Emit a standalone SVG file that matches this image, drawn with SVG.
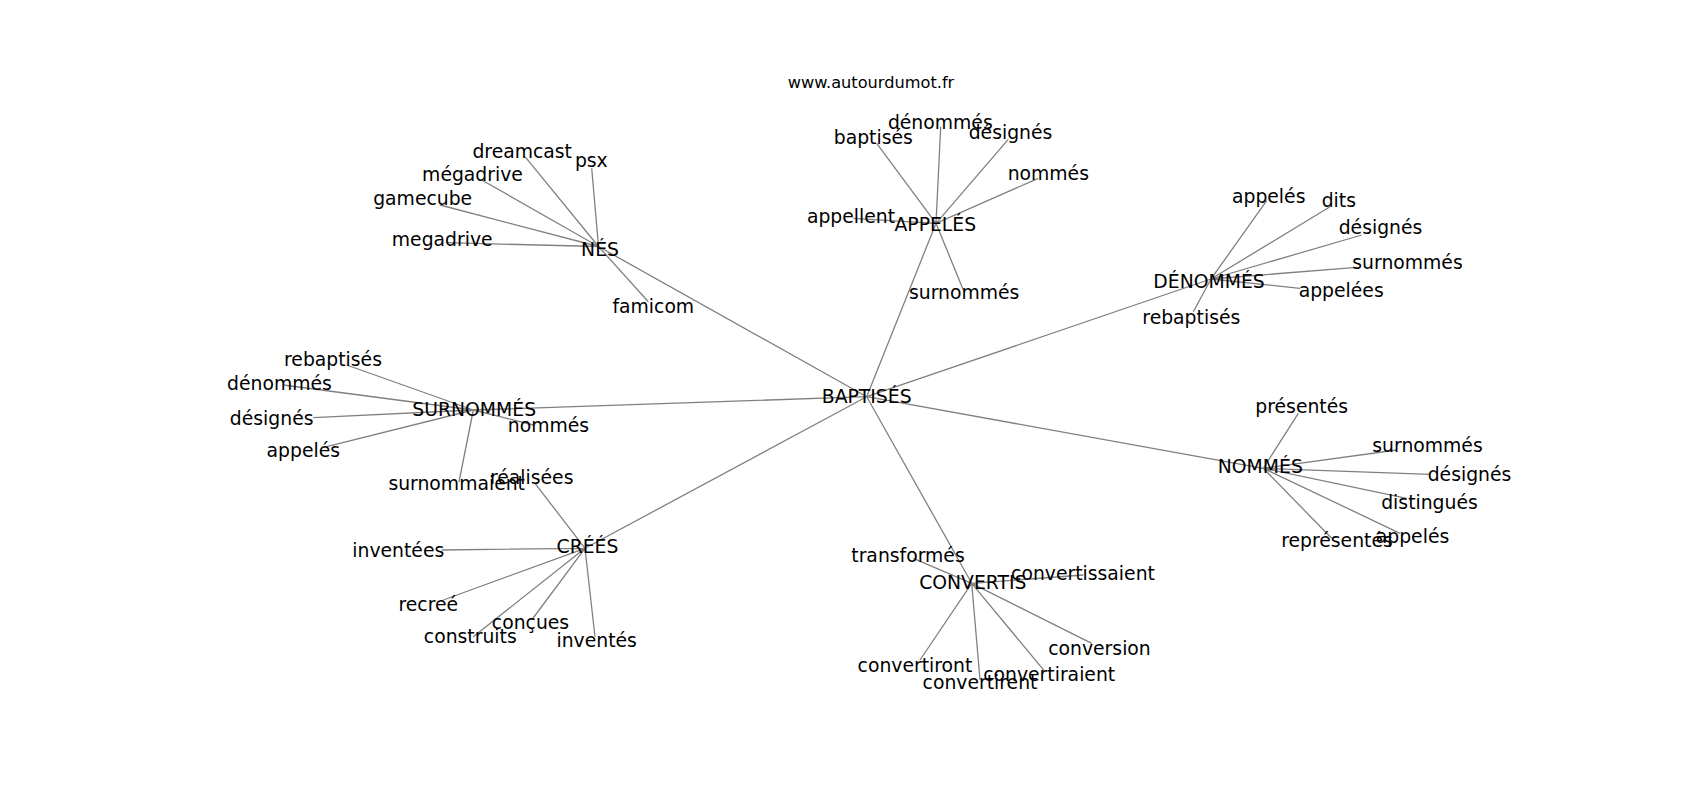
<svg xmlns="http://www.w3.org/2000/svg" width="1700" height="800" viewBox="0 0 1700 800">
<style>
.e{stroke:#808080;stroke-width:1.3;fill:none}
text{font-family:"DejaVu Sans","Liberation Sans",sans-serif;font-size:18.8px;fill:#000;text-anchor:middle}
.t{font-size:16.2px}
</style>
<rect width="1700" height="800" fill="#fff"/>
<g id="edges">
<path class="e" d="M866.7,396.7L598.5,246.5M866.7,396.7L936,223.3M866.7,396.7L1211,279M866.7,396.7L1263.3,468.3M866.7,396.7L971.7,583.3M866.7,396.7L585,548.3M866.7,396.7L473.3,410"/>
<path class="e" d="M598.5,246.5L591.7,168.3M598.5,246.5L525,156.7M598.5,246.5L481.7,180M598.5,246.5L440,205M598.5,246.5L446.7,242.7M598.5,246.5L648.3,301.7"/>
<path class="e" d="M936,223.3L876.7,143.3M936,223.3L940.7,126.7M936,223.3L1008.3,139.3M936,223.3L1038.3,178.3M936,223.3L853.3,218.3M936,223.3L963.3,290"/>
<path class="e" d="M1211,279L1266.7,200.7M1211,279L1330,206.7M1211,279L1361.7,235M1211,279L1356.7,267.3M1211,279L1300,288.3M1211,279L1193.3,311.7"/>
<path class="e" d="M473.3,410L346.7,365M473.3,410L283.3,385M473.3,410L313.3,417.7M473.3,410L326.7,446.7M473.3,410L533.3,425M473.3,410L459,482"/>
<path class="e" d="M585,548.3L535,483.3M585,548.3L441.7,550M585,548.3L443.3,600M585,548.3L531.7,620M585,548.3L473.3,636.7M585,548.3L595,636.7"/>
<path class="e" d="M971.7,583.3L913.3,558.3M971.7,583.3L1083.3,575M971.7,583.3L1091.7,643.3M971.7,583.3L920,660M971.7,583.3L980,680M971.7,583.3L1045,671.7"/>
<path class="e" d="M1263.3,468.3L1298.3,413.3M1263.3,468.3L1396.7,450M1263.3,468.3L1430,474.3M1263.3,468.3L1406.7,498.3M1263.3,468.3L1400,533.3M1263.3,468.3L1331.7,538.3"/>
</g>
<text class="t" x="871" y="87.7">www.autourdumot.fr</text>
<g id="n-baptises"><text x="866.7" y="403.3">BAPTISÉS</text></g>
<g id="n-nes"><text x="600" y="255.7">NÉS</text>
<text x="522.2" y="158.3">dreamcast</text>
<text x="591.3" y="166.7">psx</text>
<text x="472.5" y="181">mégadrive</text>
<text x="422.7" y="205">gamecube</text>
<text x="442.2" y="246">megadrive</text>
<text x="653.3" y="312.7">famicom</text></g>
<g id="n-appeles"><text x="935.3" y="230.7">APPELÉS</text>
<text x="873.3" y="144">baptisés</text>
<text x="940.3" y="129.3">dénommés</text>
<text x="1010.5" y="139.3">désignés</text>
<text x="1048.3" y="180">nommés</text>
<text x="851" y="222.7">appellent</text>
<text x="964.2" y="299.3">surnommés</text></g>
<g id="n-denommes"><text x="1209" y="287.5">DÉNOMMÉS</text>
<text x="1268.7" y="202.7">appelés</text>
<text x="1338.8" y="206.7">dits</text>
<text x="1380.5" y="234">désignés</text>
<text x="1407.5" y="269.3">surnommés</text>
<text x="1341.2" y="296.7">appelées</text>
<text x="1191.3" y="324">rebaptisés</text></g>
<g id="n-surnommes"><text x="474.2" y="416">SURNOMMÉS</text>
<text x="333" y="366">rebaptisés</text>
<text x="279.5" y="390">dénommés</text>
<text x="271.7" y="425">désignés</text>
<text x="303.3" y="456.7">appelés</text>
<text x="548.5" y="432.3">nommés</text>
<text x="456.7" y="490">surnommaient</text></g>
<g id="n-crees"><text x="587.5" y="553.3">CRÉÉS</text>
<text x="531.7" y="484.3">réalisées</text>
<text x="398.3" y="556.7">inventées</text>
<text x="428.3" y="610.7">recreé</text>
<text x="530.5" y="629.3">conçues</text>
<text x="470.3" y="643.3">construits</text>
<text x="596.7" y="646.7">inventés</text></g>
<g id="n-convertis"><text x="972.8" y="589.3">CONVERTIS</text>
<text x="908" y="561.7">transformés</text>
<text x="1083" y="580">convertissaient</text>
<text x="1099.5" y="655">conversion</text>
<text x="915" y="671.7">convertiront</text>
<text x="980" y="689.3">convertirent</text>
<text x="1049.2" y="680.7">convertiraient</text></g>
<g id="n-nommes"><text x="1260.3" y="473.3">NOMMÉS</text>
<text x="1301.7" y="413.3">présentés</text>
<text x="1427.5" y="451.7">surnommés</text>
<text x="1469.5" y="480.7">désignés</text>
<text x="1429.5" y="509">distingués</text>
<text x="1412.5" y="542.7">appelés</text>
<text x="1337" y="546.7">représentés</text></g>
</svg>
